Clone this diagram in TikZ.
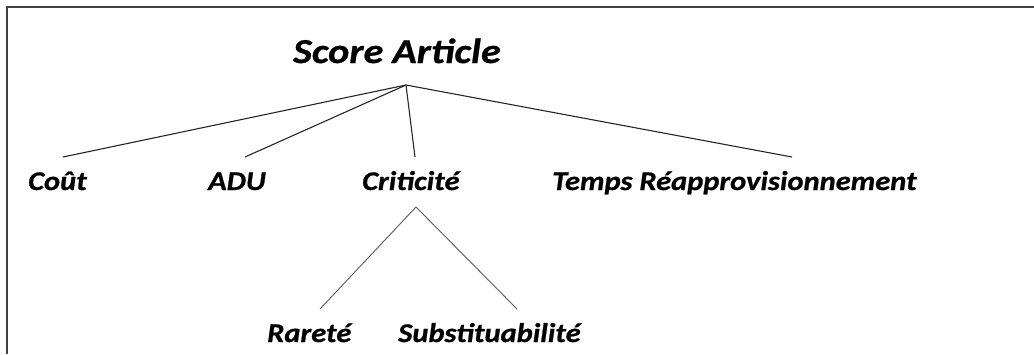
\documentclass[tikz,border=0pt]{standalone}
\usepackage{fontspec}
\setmainfont{Carlito}
\newfontfamily\lblfont{Carlito}[FakeStretch=1.13,BoldItalicFeatures={FakeBold=0.8}]
\newfontfamily\rootfont{Carlito}[FakeStretch=1.15,BoldItalicFeatures={FakeBold=0.8}]
\begin{document}
\begin{tikzpicture}[x=1pt,y=-1pt,
  lbl/.style={anchor=base west,inner sep=0pt,font=\lblfont\fontsize{27}{31}\selectfont\bfseries\itshape},
  rootlbl/.style={anchor=base west,inner sep=0pt,font=\rootfont\fontsize{35}{40}\selectfont\bfseries\itshape},
  edge/.style={draw=black!85,line width=1.1pt},
  subedge/.style={draw=black!65,line width=0.9pt},
  frame/.style={draw=black!75,line width=2pt}]
\useasboundingbox (0,0) rectangle (1034,354);
% frame
\coordinate (ftl) at (7,7);
\coordinate (ftr) at (1034,7);
\coordinate (fbl) at (7,354);
\draw[frame] (ftr) -- (ftl) -- (fbl);
% nodes
\node[rootlbl] (root) at (293,63) {Score Article};
\node[lbl] (cout) at (28,190) {Coût};
\node[lbl] (adu) at (208,190) {ADU};
\node[lbl] (crit) at (362,190) {Criticité};
\node[lbl] (temps) at (552,190) {Temps Réapprovisionnement};
\node[lbl] (rar) at (267,342) {Rareté};
\node[lbl] (subs) at (398,342) {Substituabilité};
% connector ends
\coordinate (rootj) at (406,85);
\coordinate (coutj) at (63,157);
\coordinate (aduj) at (245,157);
\coordinate (critj) at (415,157);
\coordinate (tempsj) at (792,157);
\coordinate (critb) at (416,207);
\coordinate (rarj) at (320,309);
\coordinate (subsj) at (517,309);
\draw[edge] (rootj) -- (coutj);
\draw[edge] (rootj) -- (aduj);
\draw[edge] (rootj) -- (critj);
\draw[edge] (rootj) -- (tempsj);
\draw[subedge] (critb) -- (rarj);
\draw[subedge] (critb) -- (subsj);
\end{tikzpicture}
\end{document}
